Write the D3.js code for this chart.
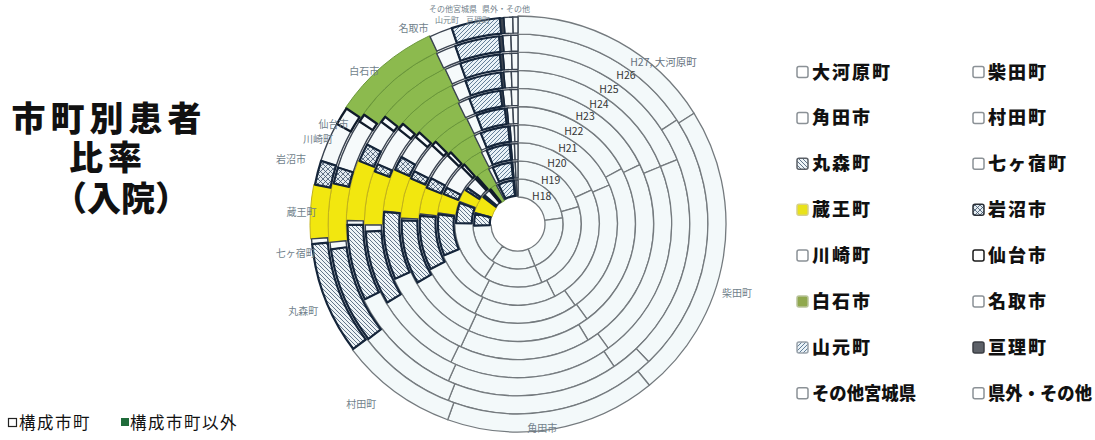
<!DOCTYPE html>
<html>
<head>
<meta charset="utf-8">
<script src="https://cdn.jsdelivr.net/npm/d3@7"></script>
<style>
  body { margin: 0; background: #fff; }
  svg { display: block; }
  text { font-family: "Noto Sans CJK JP", "Noto Sans", sans-serif; }
</style>
</head>
<body>
<svg id="chart" width="1095" height="440"></svg>
<script>
// Patient share (%) by home municipality, inpatients, one ring per fiscal year
const municipalities = ["大河原町", "柴田町", "角田市", "村田町", "丸森町", "七ヶ宿町", "蔵王町", "岩沼市",
  "川崎町", "仙台市", "白石市", "名取市", "山元町", "亘理町", "その他宮城県", "県外・その他"];
const years = ["H18", "H19", "H20", "H21", "H22", "H23", "H24", "H25", "H26", "H27"];

const shareH18 = [22.8, 21.1, 15.8, 14.7, 4.4, 0.3, 6.4, 0.8, 2.5, 0.6, 2.5, 0.8, 5.6, 0.3, 0.7, 0.7];
const shareH19 = [20.6, 23.3, 15.0, 16.4, 5.3, 0.3, 3.3, 0.8, 3.1, 0.6, 3.6, 1.1, 5.0, 0.3, 0.7, 0.7];
const shareH20 = [18.1, 24.4, 15.0, 11.1, 8.3, 0.3, 3.9, 1.4, 5.1, 0.7, 4.2, 1.1, 4.7, 0.3, 0.7, 0.7];
const shareH21 = [18.6, 21.7, 16.9, 10.3, 8.9, 0.3, 4.4, 1.7, 4.6, 0.7, 4.7, 1.1, 4.6, 0.3, 0.7, 0.6];
const shareH22 = [17.2, 22.8, 16.9, 9.7, 8.9, 0.3, 5.6, 1.1, 4.3, 0.7, 5.3, 1.4, 4.0, 0.3, 0.8, 0.7];
const shareH23 = [17.8, 23.6, 15.6, 11.4, 8.1, 0.1, 5.1, 1.7, 2.9, 0.7, 5.8, 1.4, 3.8, 0.3, 1.0, 0.8];
const shareH24 = [18.9, 21.1, 17.2, 9.2, 7.8, 0.7, 5.7, 0.8, 4.3, 0.7, 6.5, 1.5, 3.8, 0.3, 0.8, 0.7];
const shareH25 = [18.9, 21.7, 16.1, 11.1, 7.2, 0.4, 5.7, 1.7, 2.5, 0.6, 7.2, 1.5, 3.8, 0.3, 0.8, 0.6];
const shareH26 = [15.8, 22.2, 18.1, 8.6, 8.3, 0.6, 5.0, 1.4, 4.3, 0.7, 8.1, 1.7, 3.8, 0.3, 0.7, 0.6];
const shareH27 = [16.1, 23.1, 16.4, 9.2, 8.8, 0.4, 4.2, 1.9, 3.1, 1.4, 8.6, 1.8, 3.8, 0.3, 0.7, 0.4];

const shares = [shareH18, shareH19, shareH20, shareH21, shareH22, shareH23, shareH24, shareH25, shareH26, shareH27];

const titleLines = ["市町別患者", "比率", "（入院）"];
const groupLegend = ["構成市町", "構成市町以外"];

// ---------------------------------------------------------------------------
const W = 1095, H = 440;
const cx = 518, cy = 224, hole = 27, band = 18.1;
const outerR = hole + band * years.length;

const svg = d3.select("#chart");
const defs = svg.append("defs");

function hatch(id, bg, color, paths, size, width) {
  const p = defs.append("pattern").attr("id", id)
    .attr("patternUnits", "userSpaceOnUse").attr("width", size).attr("height", size);
  p.append("rect").attr("width", size).attr("height", size).attr("fill", bg);
  p.append("path").attr("d", paths).attr("stroke", color).attr("stroke-width", width).attr("fill", "none");
}
// back-slash hatch, slash hatch, cross hatch
hatch("pat-back", "#eef4f7", "#52677e", "M0,0L4,4M-1,3L1,5M3,-1L5,1", 4, 0.9);
hatch("pat-slash", "#eaf2f7", "#54728f", "M0,4L4,0M-1,1L1,-1M3,5L5,3", 4, 0.9);
hatch("pat-cross", "#e3ebf0", "#3d526a", "M0,0L5,5M0,5L5,0", 5, 0.8);

const NAVY = "#15253a";
const light = { fill: "#f3f9fa", stroke: "#747a7e", sw: 1.3, inset: 0, layer: 0 };
const framed = { fill: "#f6fafb", stroke: "#3a4350", sw: 1.4, inset: 1, layer: 2 };
const catStyle = [
  light, light, light, light,
  { fill: "url(#pat-back)", stroke: NAVY, sw: 2.2, inset: 1.2, layer: 3 },      // 丸森町
  framed,                                                                        // 七ヶ宿町
  { fill: "#f2e70f", stroke: "#c2b21c", sw: 1, inset: 0, layer: 1 },            // 蔵王町
  { fill: "url(#pat-cross)", stroke: NAVY, sw: 2.2, inset: 1.2, layer: 3 },     // 岩沼市
  framed,                                                                        // 川崎町
  { fill: "#f6fafb", stroke: "#101b2a", sw: 2.3, inset: 1.2, layer: 3 },        // 仙台市
  { fill: "#8cba4e", stroke: "#6b983a", sw: 1, inset: 0, layer: 1 },            // 白石市
  framed,                                                                        // 名取市
  { fill: "url(#pat-slash)", stroke: NAVY, sw: 2.2, inset: 1.2, layer: 3 },     // 山元町
  { fill: "#3c4450", stroke: NAVY, sw: 1.5, inset: 1.2, layer: 3 },             // 亘理町
  framed, framed                                                                 // その他宮城県, 県外・その他
];
const legendStyle = [
  null, null, null, null,
  { fill: "url(#pat-back)", stroke: "#5a5f66" },
  null,
  { fill: "#e9e21a", stroke: "#d6d08a" },
  { fill: "url(#pat-cross)", stroke: "#2a2f36" },
  null,
  { fill: "#ffffff", stroke: "#1b1b1b" },
  { fill: "#90a84e", stroke: "#b9c49a" },
  null,
  { fill: "url(#pat-slash)", stroke: "#9aa3ab" },
  { fill: "#5d6168", stroke: "#3b3e44" },
  null, null
];

const pie = d3.pie().sort(null).value(d => d);
const segments = [];
shares.forEach((row, k) => pie(row).forEach((a, i) => segments.push({ a, i, k })));
segments.sort((p, q) => catStyle[p.i].layer - catStyle[q.i].layer);

const chart = svg.append("g").attr("transform", `translate(${cx},${cy})`);

chart.selectAll("path.seg").data(segments).join("path")
  .attr("class", "seg")
  .attr("d", d => {
    const s = catStyle[d.i];
    return d3.arc()
      .innerRadius(hole + d.k * band + s.inset)
      .outerRadius(hole + (d.k + 1) * band - s.inset)(d.a);
  })
  .attr("fill", d => catStyle[d.i].fill)
  .attr("stroke", d => catStyle[d.i].stroke)
  .attr("stroke-width", d => catStyle[d.i].sw)
  .attr("stroke-linejoin", "round");

// year labels sit on the first segment of every ring; the two outer ones are pulled clear
const yearNudge = { H26: [22, 10], H27: [16, 12] };
const yearLabels = shares.map((row, k) => {
  const a = pie(row)[0];
  const c = d3.arc().innerRadius(hole + k * band).outerRadius(hole + (k + 1) * band).centroid(a);
  const last = k === years.length - 1;
  const n = yearNudge[years[k]] || [0, 0];
  return { x: c[0] + n[0], y: c[1] + n[1], txt: last ? `${years[k]}, ${municipalities[0]}` : years[k], last };
});
chart.selectAll("text.yr").data(yearLabels).join("text")
  .attr("class", "yr")
  .attr("x", d => d.x)
  .attr("y", d => d.y)
  .attr("dy", "0.35em")
  .attr("text-anchor", d => d.last ? "start" : "middle")
  .attr("font-size", 10.5)
  .attr("fill", d => d.last ? "#66727e" : "#353535")
  .text(d => d.txt);

// municipality names around the outer ring, nudged where they would collide
const labelNudge = {
  "柴田町": [1, 34], "角田市": [-13, 0], "村田町": [-26, 2], "丸森町": [-9, 7], "七ヶ宿町": [-2, 11],
  "蔵王町": [4, 2], "岩沼市": [-13, -10], "川崎町": [3, 3], "仙台市": [4, 16], "白石市": [-10, 15],
  "名取市": [-22, 10]
};
// the four thin slices at the top share a crowded strip above the rings
const topStrip = { "山元町": [447, 20], "亘理町": [478, 20], "その他宮城県": [453, 9], "県外・その他": [506, 9] };

const outerArcs = pie(shares[shares.length - 1]);
const labelR = outerR + 13;
const catLabels = outerArcs.slice(1).map((d, j) => {
  const name = municipalities[j + 1];
  const m = (d.startAngle + d.endAngle) / 2;
  if (topStrip[name]) {
    return { name, x: topStrip[name][0] - cx, y: topStrip[name][1] - cy, small: true };
  }
  const n = labelNudge[name] || [0, 0];
  const y = Math.max(-cy + 14, Math.min(H - cy - 12, -labelR * Math.cos(m)));
  return { name, x: labelR * Math.sin(m) + n[0], y: y + n[1], small: false };
});
chart.selectAll("text.cat").data(catLabels).join("text")
  .attr("class", "cat")
  .attr("x", d => d.x)
  .attr("y", d => d.y)
  .attr("dy", "0.35em")
  .attr("text-anchor", "middle")
  .attr("font-size", d => d.small ? 8 : 10)
  .attr("fill", "#717f8b")
  .text(d => d.name);

// title, one text block with a line per tspan
const title = svg.append("text")
  .attr("text-anchor", "middle")
  .attr("font-size", 34)
  .attr("font-weight", 900)
  .attr("fill", "#111");
[[109, 131, 5], [108, 170, 5], [121, 211, 0]].forEach(([x, y, ls], j) => {
  title.append("tspan")
    .attr("x", x).attr("y", y)
    .attr("letter-spacing", ls)
    .text(titleLines[j]);
});

// municipality legend, two columns read row by row
const legend = svg.append("g");
const colX = [797, 973], rowY0 = 72, rowStep = 45.9, maxTextW = 104;
municipalities.forEach((name, i) => {
  const x = colX[i % 2], y = rowY0 + Math.floor(i / 2) * rowStep;
  const ls = legendStyle[i] || { fill: "#ffffff", stroke: "#8b9196" };
  legend.append("rect")
    .attr("x", x).attr("y", y - 5.5).attr("width", 11).attr("height", 11).attr("rx", 2)
    .attr("fill", ls.fill).attr("stroke", ls.stroke).attr("stroke-width", 1.5);
  const t = legend.append("text")
    .attr("x", x + 15).attr("y", y + 6.5)
    .attr("font-size", 18).attr("font-weight", 900).attr("letter-spacing", 2)
    .attr("fill", "#111")
    .text(name);
  const w = t.node().getComputedTextLength();
  if (w > maxTextW) {
    t.attr("letter-spacing", 0).attr("textLength", maxTextW).attr("lengthAdjust", "spacingAndGlyphs");
  }
});

// bottom legend: member towns / others
const bottom = svg.append("g");
bottom.append("rect").attr("x", 8.5).attr("y", 418.5).attr("width", 8).attr("height", 8)
  .attr("fill", "#fff").attr("stroke", "#222").attr("stroke-width", 1.2);
bottom.append("text").attr("x", 19).attr("y", 429).attr("font-size", 16.5).attr("letter-spacing", 1.5)
  .attr("fill", "#111").text(groupLegend[0]);
bottom.append("rect").attr("x", 121).attr("y", 418).attr("width", 8).attr("height", 8)
  .attr("fill", "#1f6b3a");
bottom.append("text").attr("x", 130).attr("y", 429).attr("font-size", 16.5).attr("letter-spacing", 1.5)
  .attr("fill", "#111").text(groupLegend[1]);
</script>
</body>
</html>
